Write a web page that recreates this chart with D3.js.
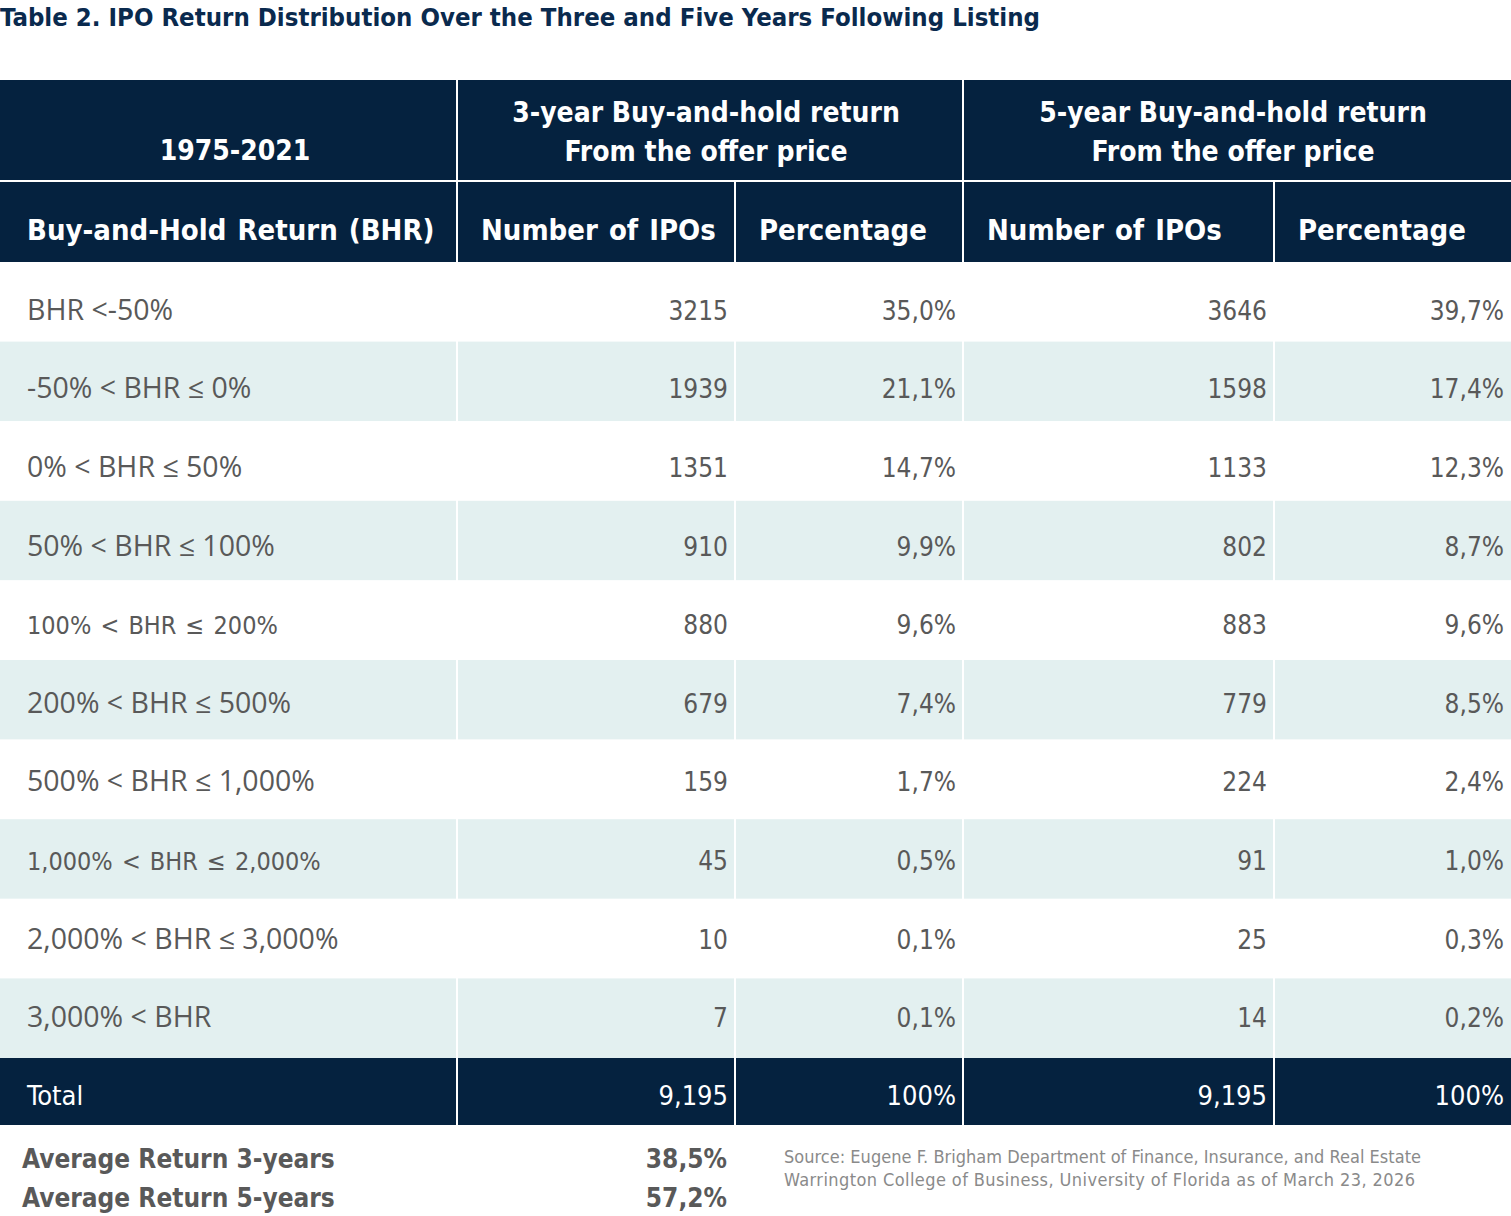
<!DOCTYPE html>
<html>
<head>
<meta charset="utf-8">
<script src="https://cdn.jsdelivr.net/npm/d3@7"></script>
<style>
  body { margin: 0; background: #fff; }
  svg text { font-family: "DejaVu Sans Condensed", "DejaVu Sans", sans-serif; }
</style>
</head>
<body>
<div id="table-container"></div>
<script>
const title = "Table 2. IPO Return Distribution Over the Three and Five Years Following Listing";
const period = "1975-2021";
const groupHeaders = [["3-year Buy-and-hold return", "From the offer price"], ["5-year Buy-and-hold return", "From the offer price"]];
const subHeaders = ["Buy-and-Hold Return (BHR)", "Number of IPOs", "Percentage", "Number of IPOs", "Percentage"];
const categories = ["BHR <-50%", "-50% < BHR ≤ 0%", "0% < BHR ≤ 50%", "50% < BHR ≤ 100%", "100% < BHR ≤ 200%",
  "200% < BHR ≤ 500%", "500% < BHR ≤ 1,000%", "1,000% < BHR ≤ 2,000%", "2,000% < BHR ≤ 3,000%", "3,000% < BHR"];
const ipos3 = [3215, 1939, 1351, 910, 880, 679, 159, 45, 10, 7];
const pct3 = ["35,0%", "21,1%", "14,7%", "9,9%", "9,6%", "7,4%", "1,7%", "0,5%", "0,1%", "0,1%"];
const ipos5 = [3646, 1598, 1133, 802, 883, 779, 224, 91, 25, 14];
const pct5 = ["39,7%", "17,4%", "12,3%", "8,7%", "9,6%", "8,5%", "2,4%", "1,0%", "0,3%", "0,2%"];
const totals = ["Total", "9,195", "100%", "9,195", "100%"];
const averages = [["Average Return 3-years", "38,5%"], ["Average Return 5-years", "57,2%"]];
const source = ["Source: Eugene F. Brigham Department of Finance, Insurance, and Real Estate",
  "Warrington College of Business, University of Florida as of March 23, 2026"];

const W = 1511, H = 1216;
const navy = "#05223f", stripe = "#e3f0f0", grey = "#595959";
const colEdges = [0, 457, 735, 963, 1274, 1511];
const pad = 7;

const svg = d3.select("#table-container").append("svg")
  .attr("width", W).attr("height", H);

// title
svg.append("text")
  .attr("x", 0).attr("y", 26)
  .attr("fill", "#0a2a4e")
  .attr("textLength", 1040).attr("lengthAdjust", "spacing")
  .style("font-size", "25.5px").style("font-weight", "bold")
  .text(title);

// header rows
const hdrTop = 80, hdr1 = 100, hdr2 = 80, gap = 2;
svg.append("rect").attr("x", 0).attr("y", hdrTop).attr("width", W).attr("height", hdr1 + gap + hdr2).attr("fill", navy);
svg.append("rect").attr("x", 0).attr("y", hdrTop + hdr1).attr("width", W).attr("height", gap).attr("fill", "#fff");

const headerFont = g => g.attr("fill", "#fff").style("font-size", "28px").style("font-weight", "bold");

svg.append("text").call(headerFont)
  .attr("x", 235).attr("y", 160).attr("text-anchor", "middle").text(period);

groupHeaders.forEach((lines, i) => {
  const cx = (colEdges[1 + i * 2] + colEdges[3 + i * 2]) / 2;
  lines.forEach((l, j) => {
    svg.append("text").call(headerFont)
      .attr("x", cx - 4).attr("y", 122 + j * 39).attr("text-anchor", "middle").text(l);
  });
});

subHeaders.forEach((s, i) => {
  svg.append("text").call(headerFont)
    .attr("x", colEdges[i] + (i === 0 ? 27 : 24)).attr("y", 240)
    .style("font-size", "29px").style("word-spacing", "2px")
    .text(s);
});

// body rows
const bodyTop = hdrTop + hdr1 + gap + hdr2, bodyBottom = 1058;
const y = d3.scaleBand().domain(d3.range(categories.length)).range([bodyTop, bodyBottom]);

svg.selectAll("rect.row")
  .data(categories)
  .join("rect")
  .attr("class", "row")
  .attr("x", 0).attr("y", (d, i) => y(i))
  .attr("width", W).attr("height", y.bandwidth())
  .attr("fill", (d, i) => i % 2 ? stripe : "#fff");

// total row
const totalH = 67;
svg.append("rect").attr("x", 0).attr("y", bodyBottom).attr("width", W).attr("height", totalH).attr("fill", navy);

// vertical white separators
const vTop = (i) => (i === 2 || i === 4) ? hdrTop + hdr1 + gap : hdrTop;
[1, 2, 3, 4].forEach(i => {
  svg.append("rect")
    .attr("x", colEdges[i] - 1).attr("y", vTop(i))
    .attr("width", 2).attr("height", bodyBottom + totalH - vTop(i))
    .attr("fill", "#fff");
});

// row texts
const labelStyle = (sel, i) => {
  // rows 5 and 8 use the narrower face in the original
  if (i === 4 || i === 7) {
    sel.style("font-family", "'DejaVu Sans Condensed', sans-serif").style("word-spacing", "2px").style("font-size", "25px");
  } else {
    sel.style("font-family", "'Open Sans', sans-serif").style("font-size", "28.5px");
  }
};

categories.forEach((c, i) => {
  // text sits a little below centre at the top of the table, centred at the bottom
  const cy = y(i) + y.bandwidth() / 2 + 18 - i;
  svg.append("text").attr("x", 27).attr("y", cy).attr("fill", grey)
    .call(labelStyle, i).text(c);
  const vals = [d3.format("d")(ipos3[i]), pct3[i], d3.format("d")(ipos5[i]), pct5[i]];
  vals.forEach((v, j) => {
    svg.append("text")
      .attr("x", colEdges[j + 2] - pad).attr("y", cy)
      .attr("text-anchor", "end").attr("fill", grey)
      .style("font-size", "26px").text(v);
  });
});

totals.forEach((t, j) => {
  svg.append("text")
    .attr("x", j === 0 ? 27 : colEdges[j + 1] - pad)
    .attr("y", bodyBottom + totalH / 2 + 13)
    .attr("text-anchor", j === 0 ? "start" : "end")
    .attr("fill", "#fff").style("font-size", "27px")
    .text(t);
});

// averages
averages.forEach(([label, val], i) => {
  const yy = 1168 + i * 39;
  svg.append("text").attr("x", 22).attr("y", yy).attr("fill", grey)
    .style("font-size", "26px").style("font-weight", "bold").text(label);
  svg.append("text").attr("x", 727).attr("y", yy).attr("text-anchor", "end").attr("fill", grey)
    .style("font-size", "26px").style("font-weight", "bold").text(val);
});

// source note
const sourceWidths = [637, 631];
source.forEach((s, i) => {
  svg.append("text").attr("x", 784).attr("y", 1163 + i * 23)
    .attr("fill", "#8a8a8a").style("font-size", "18px")
    .attr("textLength", sourceWidths[i]).attr("lengthAdjust", "spacing")
    .text(s);
});
</script>
</body>
</html>
